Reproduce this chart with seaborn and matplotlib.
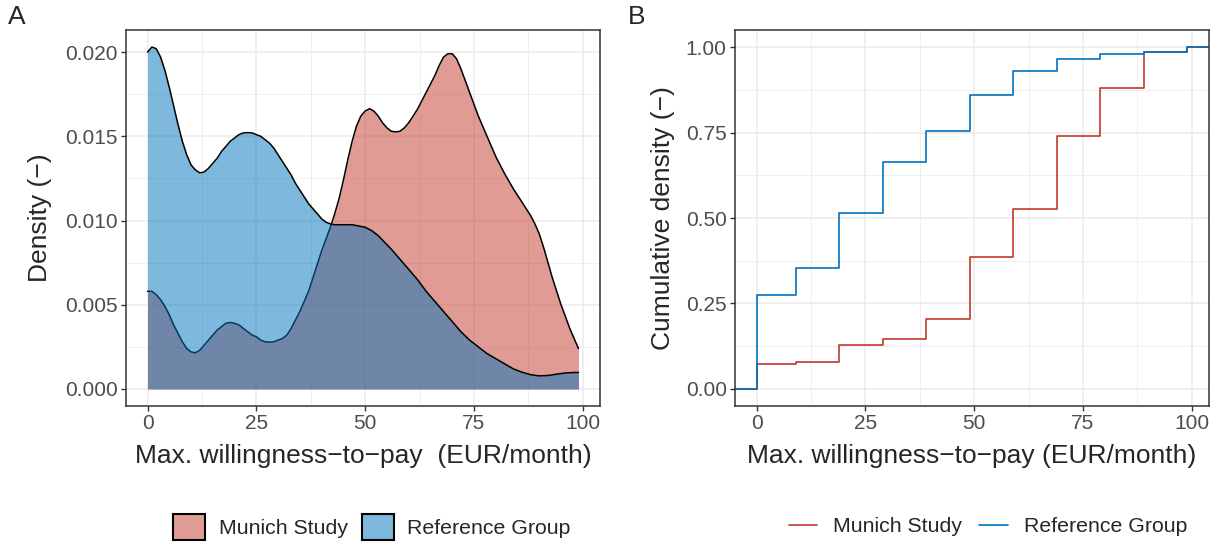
import numpy as np
import pandas as pd
import matplotlib
matplotlib.use("Agg")
import matplotlib.pyplot as plt
from matplotlib.patches import Patch
from matplotlib.lines import Line2D
from matplotlib.ticker import MultipleLocator, FormatStrFormatter
import seaborn as sns

# ---------------- data ----------------
groups = ["Munich Study", "Reference Group"]

# Panel A: kernel density curves (x in EUR/month, density)
munich_x = [0, 1, 2, 3, 4, 5, 6, 7, 8, 9, 10, 11, 12, 13, 14, 15, 16, 17, 18, 19, 20,
            21, 22, 23, 24, 25, 26, 27, 28, 29, 30, 31, 32, 33, 34, 35, 36, 37, 38, 39, 40,
            41, 42, 43, 44, 45, 46, 47, 48, 49, 50, 51, 52, 53, 54, 55, 56, 57, 58, 59, 60,
            61, 62, 63, 64, 65, 66, 67, 68, 69, 70, 71, 72, 73, 74, 75, 76, 77, 78, 79, 80,
            82, 84, 86, 88, 89, 90, 91, 92, 93, 94, 95, 96, 97, 98, 99]
munich_d = [0.0058, 0.0058, 0.0056, 0.0053, 0.0049, 0.0044, 0.0038, 0.0033, 0.0028, 0.0024,
            0.0022, 0.00215, 0.0023, 0.0026, 0.0029, 0.0032, 0.0035, 0.0037, 0.0039, 0.00395,
            0.0039, 0.0038, 0.0036, 0.0034, 0.0032, 0.0031, 0.0029, 0.0028, 0.00278, 0.0028,
            0.0029, 0.0030, 0.0032, 0.0036, 0.0041, 0.0046, 0.0052, 0.0058, 0.0066, 0.0074,
            0.0082, 0.0089, 0.0096, 0.0104, 0.0113, 0.0124, 0.0136, 0.0147, 0.0156, 0.0162,
            0.0165, 0.01664, 0.0165, 0.0162, 0.0158, 0.0155, 0.0153, 0.01526, 0.0153, 0.0155,
            0.0158, 0.0162, 0.0166, 0.0171, 0.0176, 0.0181, 0.0186, 0.0192, 0.0197, 0.0199,
            0.0199, 0.0196, 0.0190, 0.0183, 0.0176, 0.0169, 0.0162, 0.0156, 0.0150, 0.0144,
            0.0138, 0.0128, 0.0119, 0.0111, 0.0103, 0.0098, 0.0092, 0.0084, 0.0075, 0.0066,
            0.0058, 0.0050, 0.0043, 0.0036, 0.0030, 0.0024]

ref_x = [0, 1, 2, 3, 4, 5, 6, 7, 8, 9, 10, 11, 12, 13, 14, 15, 16, 17, 18, 19, 20, 21, 22,
         23, 24, 25, 26, 27, 28, 29, 30, 31, 32, 33, 34, 35, 36, 37, 38, 39, 40, 41, 42, 43,
         45, 47, 48, 49, 50, 51.5, 53, 54.5, 56, 58, 60, 62, 64, 66, 68, 70, 72, 74, 76, 78,
         80, 82, 84, 86, 88, 90, 92, 94, 96, 98, 99]
ref_d = [0.0200, 0.0203, 0.0202, 0.0197, 0.0189, 0.0179, 0.0168, 0.0157, 0.0147, 0.0139,
         0.0133, 0.0130, 0.01283, 0.01288, 0.0131, 0.0134, 0.0137, 0.0141, 0.0144, 0.0147,
         0.0149, 0.0151, 0.0152, 0.01522, 0.0152, 0.0151, 0.0150, 0.0148, 0.0146, 0.0143,
         0.0139, 0.0135, 0.0131, 0.0127, 0.0122, 0.0118, 0.0114, 0.0110, 0.0107, 0.0104,
         0.0101, 0.0099, 0.0098, 0.00975, 0.00975, 0.00975, 0.0097, 0.00965, 0.0096, 0.0094,
         0.0091, 0.0087, 0.0083, 0.0077, 0.0071, 0.0065, 0.0058, 0.0052, 0.0046, 0.0040,
         0.0034, 0.0029, 0.0025, 0.0021, 0.0018, 0.0015, 0.0012, 0.0010, 0.00085, 0.00078,
         0.00080, 0.00088, 0.00095, 0.00098, 0.00098]

# Panel B: empirical cumulative distribution (step positions and levels)
wtp_levels = [0, 9, 19, 29, 39, 49, 59, 69, 79, 89, 99]
munich_ecdf = [0.073, 0.080, 0.128, 0.147, 0.205, 0.385, 0.525, 0.740, 0.880, 0.985, 1.0]
ref_ecdf = [0.275, 0.355, 0.515, 0.665, 0.755, 0.860, 0.930, 0.965, 0.980, 0.985, 1.0]

x_ticks = [0, 25, 50, 75, 100]
# ------------------------------------------------------------------

line_cols = {"Munich Study": "#C0392B", "Reference Group": "#0072BD"}

sns.set_theme(style="whitegrid")
plt.rcParams["font.family"] = ["Liberation Sans", "DejaVu Sans"]

fig = plt.figure(figsize=(12.21, 5.46), dpi=100)
W, H = 1221, 546
axA = fig.add_axes([126 / W, (H - 406) / H, 474 / W, 376 / H])
axB = fig.add_axes([735 / W, (H - 406) / H, 474 / W, 376 / H])

TITLE_FS = 19
TICK_FS = 15
LEG_FS = 15.3


def style_axes(ax):
    ax.set_facecolor("white")
    for s in ax.spines.values():
        s.set_visible(True)
        s.set_color("#333333")
        s.set_linewidth(1.1)
    ax.grid(True, which="major", color="#EBEBEB", linewidth=1.1)
    ax.grid(True, which="minor", color="#EBEBEB", linewidth=0.55)
    ax.set_axisbelow(True)
    ax.tick_params(axis="both", which="major", direction="out", length=3.5, width=1.0,
                   color="#333333", labelcolor="#4D4D4D", labelsize=TICK_FS, pad=2.5,
                   bottom=True, left=True)
    ax.tick_params(axis="both", which="minor", length=0)


# ---------------- Panel A ----------------
dfA = pd.concat([
    pd.DataFrame({"x": munich_x, "d": munich_d, "group": groups[0]}),
    pd.DataFrame({"x": ref_x, "d": ref_d, "group": groups[1]}),
])
z = 2
for g in groups:
    sub = dfA[dfA.group == g]
    axA.fill_between(sub.x, 0, sub.d, color=line_cols[g], alpha=0.5, linewidth=0, zorder=z)
    sns.lineplot(data=sub, x="x", y="d", color="black", linewidth=1.1, ax=axA,
                 zorder=z + 0.5, legend=False)
    z += 1

axA.set_xlim(-4.95, 103.95)
axA.set_ylim(-0.00101, 0.02131)
axA.xaxis.set_minor_locator(MultipleLocator(12.5))
axA.yaxis.set_major_locator(MultipleLocator(0.005))
axA.yaxis.set_minor_locator(MultipleLocator(0.0025))
axA.yaxis.set_major_formatter(FormatStrFormatter("%.3f"))
axA.set_xticks(x_ticks)
style_axes(axA)
axA.set_xlabel("Max. willingness\u2212to\u2212pay  (EUR/month)", fontsize=TITLE_FS, labelpad=8)
axA.set_ylabel("Density (\u2212)", fontsize=TITLE_FS, labelpad=9)

# ---------------- Panel B ----------------
xlimB = (-4.95, 103.95)
for g, vals in zip(groups, [munich_ecdf, ref_ecdf]):
    xs = [xlimB[0] - 1] + list(wtp_levels) + [xlimB[1] + 1]
    ys = [0.0] + list(vals) + [vals[-1]]
    df = pd.DataFrame({"x": xs, "y": ys})
    sns.lineplot(data=df, x="x", y="y", color=line_cols[g], linewidth=1.2,
                 drawstyle="steps-post", ax=axB, legend=False)

axB.set_xlim(*xlimB)
axB.set_ylim(-0.05, 1.05)
axB.xaxis.set_minor_locator(MultipleLocator(12.5))
axB.yaxis.set_major_locator(MultipleLocator(0.25))
axB.yaxis.set_minor_locator(MultipleLocator(0.125))
axB.yaxis.set_major_formatter(FormatStrFormatter("%.2f"))
axB.set_xticks(x_ticks)
style_axes(axB)
axB.set_xlabel("Max. willingness\u2212to\u2212pay (EUR/month)", fontsize=TITLE_FS, labelpad=8)
axB.set_ylabel("Cumulative density (\u2212)", fontsize=TITLE_FS, labelpad=8)

# ---------------- legends ----------------
hA = [Patch(facecolor=matplotlib.colors.to_rgba(line_cols[g], 0.5),
            edgecolor="black", linewidth=1.5) for g in groups]
fig.legend(hA, groups, loc="center", bbox_to_anchor=(372 / W, (H - 527) / H),
           ncol=2, frameon=False, fontsize=LEG_FS, handlelength=1.5, handleheight=1.45,
           handletextpad=0.65, columnspacing=0.65)

hB = [Line2D([0], [0], color=line_cols[g], linewidth=1.2) for g in groups]
fig.legend(hB, groups, loc="center", bbox_to_anchor=(988 / W, (H - 527) / H),
           ncol=2, frameon=False, fontsize=LEG_FS, handlelength=1.35,
           handletextpad=0.75, columnspacing=0.8)

fig.text(8 / W, 1 - 5 / H, "A", fontsize=19, va="top", ha="left")
fig.text(628 / W, 1 - 5 / H, "B", fontsize=19, va="top", ha="left")

fig.savefig("out.png", dpi=100, facecolor="white")
